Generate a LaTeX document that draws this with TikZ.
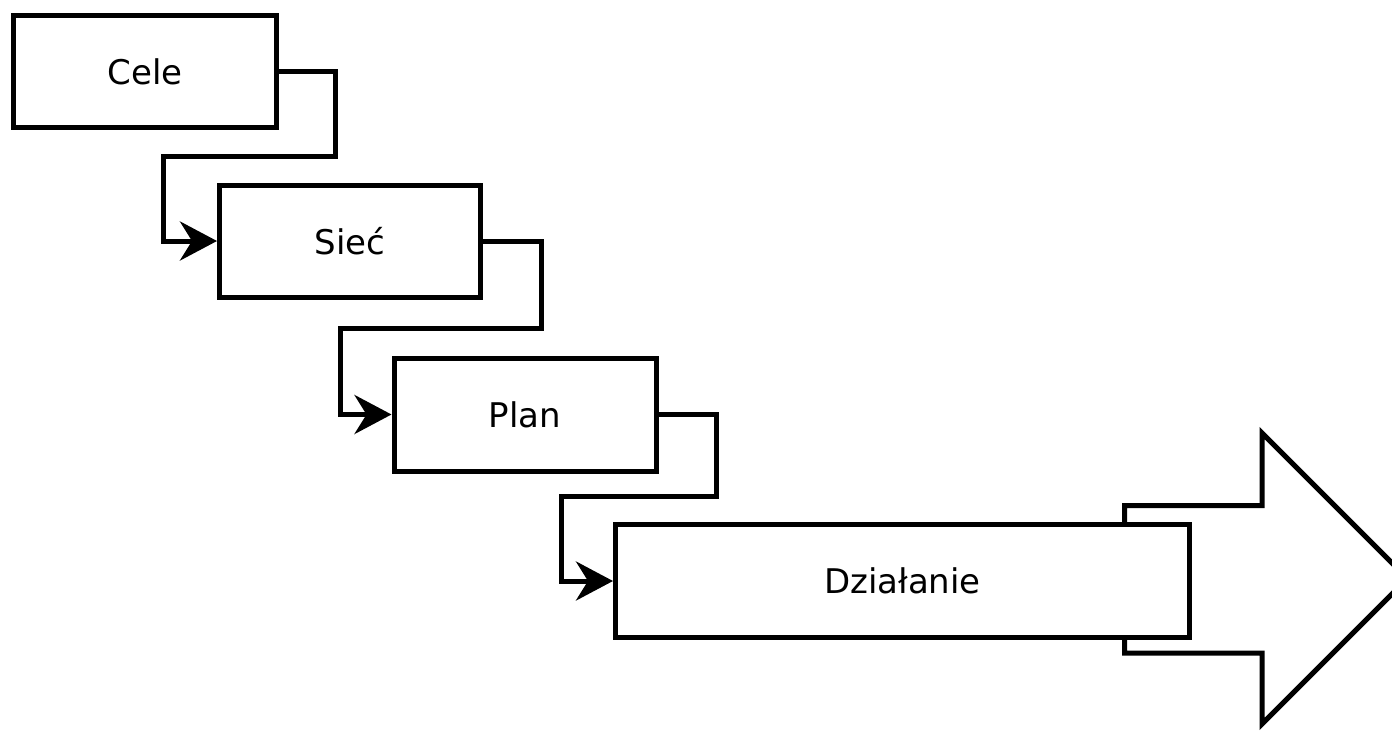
\documentclass[tikz,border=0pt]{standalone}
\usepackage{fontspec}
\setmainfont{DejaVu Sans}
\usetikzlibrary{arrows.meta}
\begin{document}
\begin{tikzpicture}[x=1pt,y=-1pt,
  stage/.style={draw=black, fill=white, line width=5pt, rectangle,
    inner sep=0pt, font=\fontsize{34}{40}\selectfont},
  flow/.style={draw=black, line width=5pt, line join=miter,
    -{Stealth[length=37pt,width=39pt,inset=12pt]}},
  bigarrow/.style={draw=black, fill=white, line width=5pt, line join=miter}]
\useasboundingbox (0,0) rectangle (1392,731);
\clip (0,0) rectangle (1392,731);

% outgoing arrow behind the last stage
\draw[bigarrow] (1124.5,505.5) -- (1262,505.5) -- (1262,433) -- (1407.5,578.5)
  -- (1262,724) -- (1262,653) -- (1124.5,653) -- cycle;

% stages
\node[stage, minimum width=262.5pt, minimum height=112.5pt] (cele)  at (145,71.5) {Cele};
\node[stage, minimum width=261pt,   minimum height=112pt]   (siec)  at (350,241)  {Sieć};
\node[stage, minimum width=262pt,   minimum height=113pt]   (plan)  at (525,414.5) {Plan};
\node[stage, minimum width=574pt,   minimum height=113.5pt] (dzial) at (902.5,581) {Działanie};

% step connectors
\draw[flow] (cele.east) -- ++(57,0) -- ++(0,84.5) -- ++(-172,0) |- (siec.west);
\draw[flow] (siec.east) -- ++(58,0) -- ++(0,87) -- ++(-201,0) |- (plan.west);
\draw[flow] (plan.east) -- ++(58,0) -- ++(0,81.5) -- ++(-155,0) |- (dzial.west);
\end{tikzpicture}
\end{document}
